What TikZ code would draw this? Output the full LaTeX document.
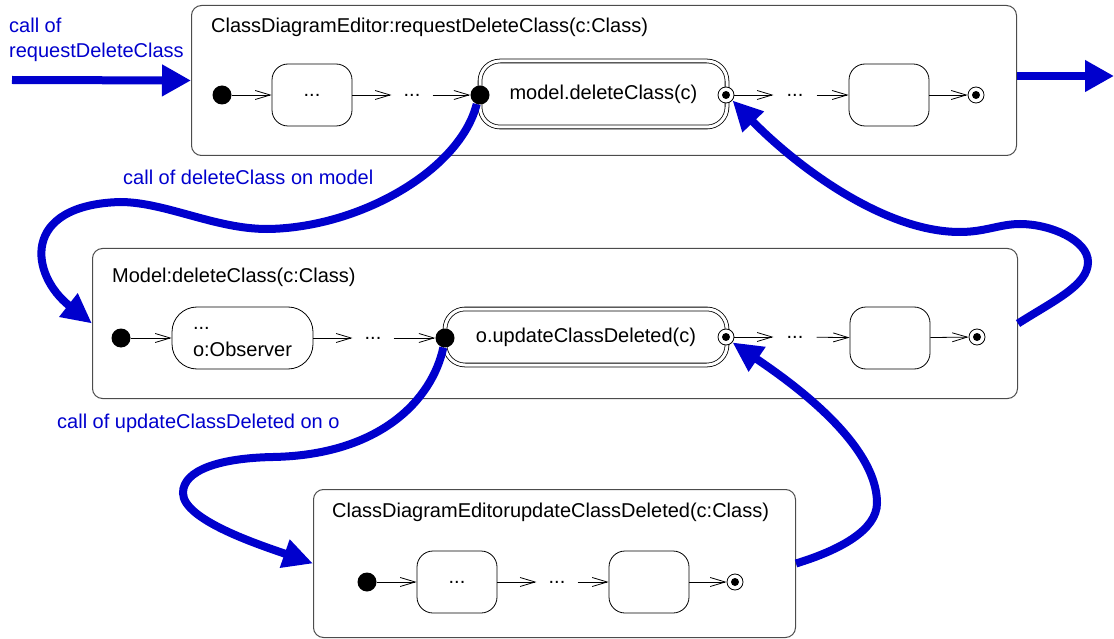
\documentclass[tikz,border=0pt]{standalone}
\usepackage{fontspec}
\setmainfont{Liberation Sans}
\usetikzlibrary{arrows.meta}
\definecolor{callblue}{RGB}{0,0,205}
\begin{document}
\begin{tikzpicture}[x=1pt,y=-1pt,
  font=\fontsize{20}{27}\selectfont,
  outerbox/.style={draw=black!70, line width=1pt, rounded corners=10pt, anchor=north west, inner sep=0pt},
  statebox/.style={draw, line width=0.8pt, rounded corners=16pt, minimum width=80pt, minimum height=62pt, inner sep=0pt},
  actbox/.style={draw, line width=0.8pt, double, double distance=3pt, rounded corners=20pt, inner sep=0pt},
  initdot/.style={circle, fill=black, minimum size=19pt, inner sep=0pt},
  enddot/.style={circle, draw, fill=white, line width=0.8pt, minimum size=16pt, inner sep=0pt,
    label={[circle, fill=black, minimum size=8pt, inner sep=0pt]center:{}}},
  dotsgap/.style={inner xsep=12pt, inner ysep=0pt},
  conn/.style={-{Straight Barb[length=15pt,width=9pt]}, line width=0.8pt},
  lbl/.style={anchor=base west, inner sep=0pt},
  calllbl/.style={lbl, text=callblue},
  callarrow/.style={draw=callblue, line width=8pt, -{Triangle[length=30pt,width=28pt]}},
  bigarrow/.style={draw=callblue, line width=8pt, -{Triangle[length=29pt,width=30pt]}},
  ]
\useasboundingbox (0,0) rectangle (1114,639);

% outer frames
\node[outerbox, minimum width=825pt, minimum height=150pt] (b1) at (191,5) {};
\node[outerbox, minimum width=925pt, minimum height=150pt] (b2) at (92,248) {};
\node[outerbox, minimum width=482pt, minimum height=148pt] (b3) at (313,489) {};

\node[lbl] (t1) at (211,33) {ClassDiagramEditor:requestDeleteClass(c:Class)};
\node[lbl] (t2) at (112,283) {Model:deleteClass(c:Class)};
\node[lbl] (t3) at (332,517) {ClassDiagramEditorupdateClassDeleted(c:Class)};

% row 1
\node[initdot] (i1) at (222,95) {};
\node[statebox] (s1) at (312,95) {...};
\node[dotsgap] (e1) at (412,95) {...};
\node[actbox, minimum width=247pt, minimum height=66pt] (m1) at (603.5,94) {model.deleteClass(c)};
\node[initdot] (d1) at (480,95) {};
\node[enddot] (x1) at (726,95) {};
\node[dotsgap, inner xsep=13pt] (e2) at (795,95) {...};
\node[statebox] (s2) at (889,95) {};
\node[enddot] (x2) at (976,95) {};
\draw[conn] (i1) -- (s1);
\draw[conn] (s1) -- (e1);
\draw[conn] (e1) -- (d1);
\draw[conn] (x1) -- (e2);
\draw[conn] (e2) -- (s2);
\draw[conn] (s2) -- (x2);

% row 2
\node[initdot] (i2) at (121,338) {};
\node[statebox, minimum width=141pt, rounded corners=25pt, align=left] (s3) at (242.5,338) {\vphantom{o}...\\o:Observer};
\node[dotsgap] (e3) at (373,338) {...};
\node[actbox, minimum width=282pt, minimum height=56pt] (m2) at (586,337) {o.updateClassDeleted(c)};
\node[initdot] (d2) at (445,338) {};
\node[enddot] (x3) at (726,337) {};
\node[dotsgap, inner xsep=13pt] (e4) at (795,337) {...};
\node[statebox] (s4) at (890,338) {};
\node[enddot] (x4) at (977,337) {};
\draw[conn] (i2) -- (s3);
\draw[conn] (s3) -- (e3);
\draw[conn] (e3) -- (d2);
\draw[conn] (x3) -- (e4);
\draw[conn] (e4) -- (s4);
\draw[conn] (s4) -- (x4);

% row 3
\node[initdot] (i3) at (367,582) {};
\node[statebox] (s5) at (457,582) {...};
\node[dotsgap] (e5) at (557,582) {...};
\node[statebox] (s6) at (649,582) {};
\node[enddot] (x5) at (735,582) {};
\draw[conn] (i3) -- (s5);
\draw[conn] (s5) -- (e5);
\draw[conn] (e5) -- (s6);
\draw[conn] (s6) -- (x5);

% call labels
\node[calllbl, anchor=north west, align=left, font=\fontsize{20}{25}\selectfont] (l1) at (9,18) {call of\\requestDeleteClass};
\node[calllbl] (l2) at (123,185) {call of deleteClass on model};
\node[calllbl] (l3) at (57,428) {call of updateClassDeleted on o};

% blue call/return arrows
\coordinate (inS) at (12,80);
\coordinate (outE) at (1114,76);
\draw[bigarrow] (inS) -- (b1.west);
\draw[bigarrow] (b1.east |- outE) -- (outE);

\draw[callarrow] (d1.-110) .. controls (460,170) and (360,228) .. (267,229)
  .. controls (215,229) and (165,202) .. (120,202)
  .. controls (20,205) and (30,275) .. (b2.west);
\draw[callarrow] (b2.east) .. controls (1055,300) and (1088,285) .. (1088,262)
  .. controls (1088,240) and (1050,224) .. (1020,224)
  .. controls (1000,224) and (985,232) .. (960,232)
  .. controls (880,232) and (790,160) .. (x1.-40);
\draw[callarrow] (d2.-100) .. controls (432,400) and (380,455) .. (273,457)
  .. controls (220,458) and (183,470) .. (183,493)
  .. controls (183,520) and (260,545) .. (b3.west);
\draw[callarrow] (b3.east) .. controls (840,550) and (877,530) .. (877,503)
  .. controls (877,440) and (780,375) .. (x3.-40);
\end{tikzpicture}
\end{document}
